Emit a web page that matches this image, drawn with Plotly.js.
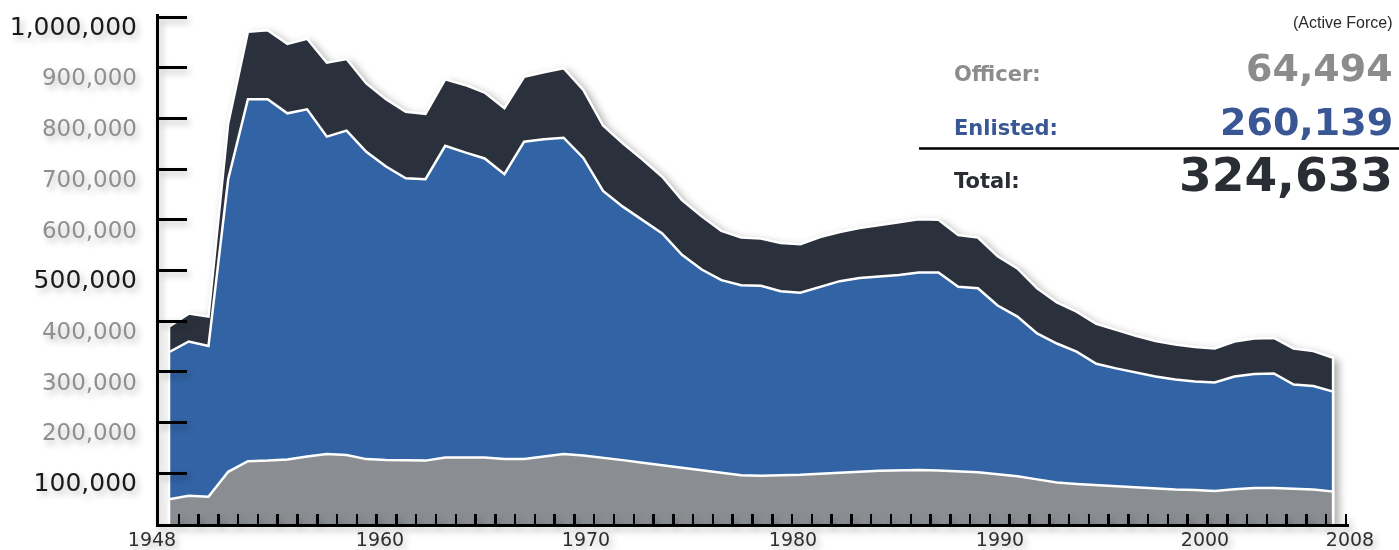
<!DOCTYPE html>
<html>
<head>
<meta charset="utf-8">
<script src="https://cdn.plot.ly/plotly-3.0.1.min.js"></script>
<style>
  html, body { margin: 0; padding: 0; background: #ffffff; }
  #chart { width: 1399px; height: 550px; }
  .scatterlayer { filter: drop-shadow(4px 4px 4px rgba(0,0,0,0.35)); }
  .yaxislayer-above, .xaxislayer-above, .xlines-above, .ylines-above { filter: drop-shadow(3px 4px 3px rgba(0,0,0,0.25)); }
</style>
</head>
<body>
<div id="chart"></div>
<script>
// ---- data (US Air Force active force strength) ----
const years = [1948,1949,1950,1951,1952,1953,1954,1955,1956,1957,1958,1959,1960,1961,1962,1963,1964,1965,1966,1967,1968,1969,1970,1971,1972,1973,1974,1975,1976,1977,1978,1979,1980,1981,1982,1983,1984,1985,1986,1987,1988,1989,1990,1991,1992,1993,1994,1995,1996,1997,1998,1999,2000,2001,2002,2003,2004,2005,2006,2007];

const total = [389000,415000,409000,790000,971000,974000,947000,957000,910000,917000,869000,838000,813000,809000,877000,866000,851000,820000,882000,891000,899000,856000,786000,751000,719000,685000,639000,607000,578000,565000,563000,554000,552000,566000,576000,584000,589000,595000,601000,600000,570000,565000,528000,504000,465000,437000,419000,395000,383000,371000,361000,354000,349000,346000,360000,366000,367000,346000,341000,328000];

const enlisted = [339000,360000,351000,680000,838000,838000,810000,818000,764000,776000,734000,705000,682000,680000,746000,733000,721000,690000,754000,759000,762000,722000,657000,626000,600000,573000,531000,502000,481000,471000,470000,459000,456000,468000,479000,485000,488000,491000,496000,496000,468000,465000,431000,409000,376000,356000,340000,316000,307000,299000,291000,285000,281000,279000,291000,296000,297000,275000,272000,261000];

const officer = [48600,55900,53900,103000,124000,125000,127000,133000,138000,136000,128000,126000,126000,125000,131000,131000,131000,128000,128000,133000,138000,135000,131000,126000,121000,116000,111000,105000,100000,96000,95000,95500,97000,99000,101500,103000,105000,106000,106500,105500,104000,102000,98000,94000,88000,82000,79000,76500,74500,72000,70500,68000,67000,65000,68500,71000,71000,70000,68000,64000];

const yTickValues = [0,100000,200000,300000,400000,500000,600000,700000,800000,900000,1000000];
const yTickLabels = ["","100,000","200,000","300,000","400,000","500,000","600,000","700,000","800,000","900,000","1,000,000"];
const yTickEmphasis = [false,true,false,false,false,true,false,false,false,false,true];

const xTickLabels = ["1948","1960","1970","1980","1990","2000","2008"];

const summaryLabels = ["Officer:","Enlisted:","Total:"];
const summaryValues = ["64,494","260,139","324,633"];
const subtitle = "(Active Force)";

// ---- layout helpers (pixel geometry) ----
const W = 1399, H = 550;
const plotTop = 14, plotBottom = 524;      // y=1,000,000 sits at 17px
const yMaxPx = 17;
const axisLeftPx = 159, axisRightPx = 1349;
const tickEndPx = 1346;
const firstPointPx = 169, pxPerYear = 19.73;
const pxToYear = p => years[0] + (p - firstPointPx) / pxPerYear;
const pxToPaperY = p => (plotBottom - p) / (plotBottom - plotTop);
const xLabelPx = [152, 380, 586, 793, 1000, 1205, 1350];
const yTop = 1000000 * (plotBottom - plotTop) / (plotBottom - yMaxPx);

function closed(xs, ys) {
  return {
    x: [xs[0]].concat(xs, [xs[xs.length - 1]]),
    y: [0].concat(ys, [0])
  };
}

const colors = { total: '#2b313c', enlisted: '#3263a5', officer: '#8a8e92' };

const traces = [
  ['total', total], ['enlisted', enlisted], ['officer', officer]
].map(([name, vals]) => {
  const c = closed(years, vals);
  return {
    type: 'scatter', mode: 'lines', name: name,
    x: c.x, y: c.y, fill: 'toself', fillcolor: colors[name],
    line: { color: '#ffffff', width: 2.5 },
    hoverinfo: 'skip'
  };
});
traces.push({ type: 'scatter', x: [], y: [], xaxis: 'x2', yaxis: 'y', showlegend: false, hoverinfo: 'skip' });

const yText = yTickLabels.map((t, i) => yTickEmphasis[i]
  ? t
  : '<span style="color:#8f8f8f;font-size:23px">' + t + '</span>');

const xStart = pxToYear(axisLeftPx), xEnd = pxToYear(axisRightPx);
const tickStart = pxToYear(axisLeftPx), tickEnd = pxToYear(tickEndPx);

const layout = {
  width: W, height: H,
  margin: { l: 0, r: 0, t: plotTop, b: H - plotBottom, pad: 0 },
  paper_bgcolor: '#ffffff', plot_bgcolor: 'rgba(0,0,0,0)',
  showlegend: false, hovermode: false,
  xaxis: {
    domain: [axisLeftPx / W, axisRightPx / W],
    anchor: 'y',
    range: [xStart, xEnd],
    showgrid: false, zeroline: false,
    showline: true, linecolor: '#000000', linewidth: 3,
    tickmode: 'linear', tick0: tickStart, dtick: (tickEnd - tickStart) / 60,
    ticks: 'inside', ticklen: 10, tickwidth: 2.5, tickcolor: '#000000',
    showticklabels: false, fixedrange: true
  },
  xaxis2: {
    domain: [0, 1], anchor: 'y',
    range: [pxToYear(0), pxToYear(W)],
    showgrid: false, zeroline: false, showline: false, ticks: '',
    tickmode: 'array',
    tickvals: xLabelPx.map(pxToYear),
    ticktext: xTickLabels,
    tickfont: { family: 'DejaVu Sans', size: 19, color: '#2e2e2e' },
    ticklabelstandoff: 2,
    fixedrange: true
  },
  yaxis: {
    domain: [0, 1], anchor: 'x',
    range: [0, yTop],
    showgrid: false, zeroline: false,
    showline: true, linecolor: '#000000', linewidth: 3,
    tickmode: 'array', tickvals: yTickValues, ticktext: yText,
    ticks: 'inside', ticklen: 28, tickwidth: 3, tickcolor: '#000000',
    tickfont: { family: 'DejaVu Sans', size: 25, color: '#1a1a1a' },
    ticklabelstandoff: 14,
    ticklabelshift: 9,
    ticklabeloverflow: 'allow',
    fixedrange: true
  },
  annotations: [
    { text: subtitle, xref: 'paper', yref: 'paper', x: 1395 / W, y: pxToPaperY(22),
      xanchor: 'right', yanchor: 'middle', showarrow: false,
      font: { family: 'Liberation Sans', size: 16, color: '#2a2a2a' } },
    { text: summaryLabels[0], xref: 'paper', yref: 'paper', x: 952 / W, y: pxToPaperY(74),
      xanchor: 'left', yanchor: 'middle', showarrow: false,
      font: { family: 'DejaVu Sans', size: 21, weight: 'bold', color: '#8c8c8c' } },
    { text: summaryValues[0], xref: 'paper', yref: 'paper', x: 1395 / W, y: pxToPaperY(68),
      xanchor: 'right', yanchor: 'middle', showarrow: false,
      font: { family: 'DejaVu Sans', size: 38, weight: 'bold', color: '#8c8c8c' } },
    { text: summaryLabels[1], xref: 'paper', yref: 'paper', x: 952 / W, y: pxToPaperY(128),
      xanchor: 'left', yanchor: 'middle', showarrow: false,
      font: { family: 'DejaVu Sans', size: 21, weight: 'bold', color: '#3a5795' } },
    { text: summaryValues[1], xref: 'paper', yref: 'paper', x: 1395 / W, y: pxToPaperY(122),
      xanchor: 'right', yanchor: 'middle', showarrow: false,
      font: { family: 'DejaVu Sans', size: 38, weight: 'bold', color: '#3a5795' } },
    { text: summaryLabels[2], xref: 'paper', yref: 'paper', x: 952 / W, y: pxToPaperY(181),
      xanchor: 'left', yanchor: 'middle', showarrow: false,
      font: { family: 'DejaVu Sans', size: 21, weight: 'bold', color: '#2a2d33' } },
    { text: summaryValues[2], xref: 'paper', yref: 'paper', x: 1395 / W, y: pxToPaperY(174),
      xanchor: 'right', yanchor: 'middle', showarrow: false,
      font: { family: 'DejaVu Sans', size: 47, weight: 'bold', color: '#2a2d33' } }
  ],
  shapes: [
    { type: 'line', xref: 'paper', yref: 'paper', x0: 919 / W, x1: 1.0,
      y0: pxToPaperY(148.5), y1: pxToPaperY(148.5),
      line: { color: '#000000', width: 2.5 } }
  ]
};

Plotly.newPlot('chart', traces, layout, { displayModeBar: false, staticPlot: true });
</script>
</body>
</html>
